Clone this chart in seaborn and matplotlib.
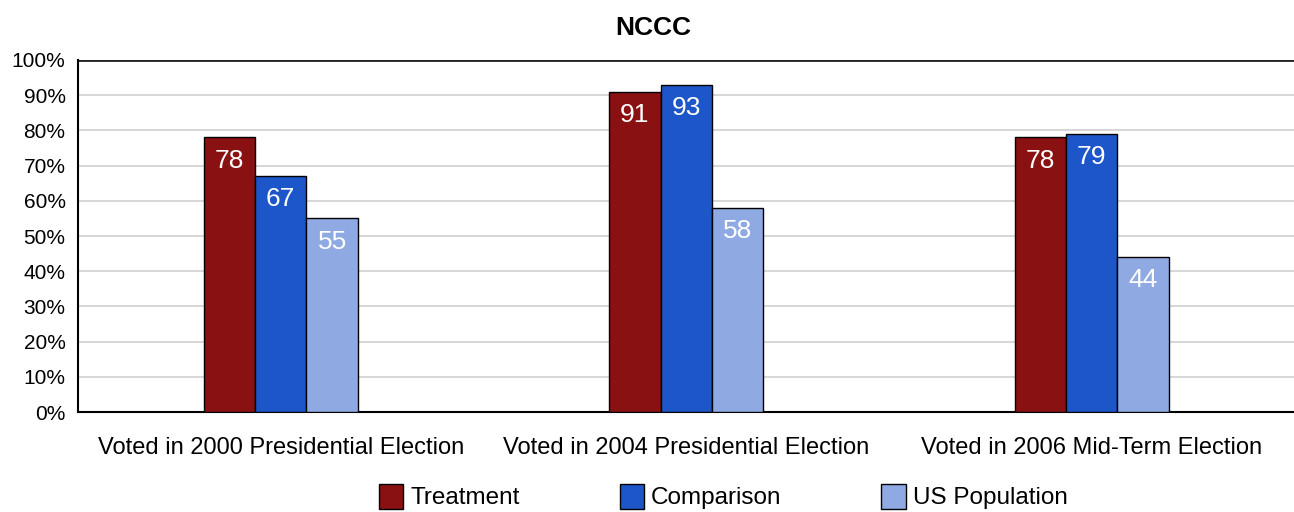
import numpy as np
import pandas as pd
import matplotlib
matplotlib.use("Agg")
import matplotlib.pyplot as plt
import seaborn as sns
from matplotlib.ticker import FixedLocator, PercentFormatter
from matplotlib.patches import Patch

# Chart data
categories = ["Voted in 2000 Presidential Election",
              "Voted in 2004 Presidential Election",
              "Voted in 2006 Mid-Term Election"]
groups = ["Treatment", "Comparison", "US Population"]
treatment = [78, 91, 78]
comparison = [67, 93, 79]
us_population = [55, 58, 44]
colors = ["#8a1111", "#1d56c9", "#8fa9e2"]

df = pd.DataFrame({
    "category": categories * 3,
    "group": [g for g in groups for _ in categories],
    "value": treatment + comparison + us_population,
})

sns.set_style("white")
plt.rcParams["font.family"] = ["Liberation Sans", "DejaVu Sans"]
plt.rcParams["text.color"] = "black"
plt.rcParams["xtick.color"] = "black"
plt.rcParams["ytick.color"] = "black"

fig = plt.figure(figsize=(12.94, 5.12), dpi=100)
ax = fig.add_axes([0.0603, 0.195, 0.94, 0.688])

sns.barplot(data=df, x="category", y="value", hue="group", palette=colors,
            saturation=1, width=0.38, edgecolor="black", linewidth=1,
            ax=ax, legend=False, zorder=3)

# value labels inside the bars
for cont in ax.containers:
    for bar in cont:
        h = bar.get_height()
        ax.annotate(f"{h:.0f}", (bar.get_x() + bar.get_width() / 2, h),
                    xytext=(0, -8), textcoords="offset points",
                    ha="center", va="top", color="white", fontsize=19,
                    zorder=4)

ax.set_ylim(0, 100)
ax.set_xlim(-0.5, 2.5)
ax.yaxis.set_major_locator(FixedLocator(np.arange(0, 101, 10)))
ax.yaxis.set_major_formatter(PercentFormatter(decimals=0))
ax.grid(axis="y", color="#d0d0d0", linewidth=1.2, zorder=0)
ax.axhline(100, color="#222222", linewidth=2, zorder=2)

ax.set_xticks([0, 1, 2])
ax.set_xticklabels(categories, fontsize=17)
ax.set_xticks([0.5, 1.5], minor=True)
ax.tick_params(axis="x", which="major", length=0, pad=18)
ax.tick_params(axis="x", which="minor", length=6, width=1.2, color="black",
               direction="inout")
ax.tick_params(axis="y", length=6, width=1, color="black", direction="out",
               labelsize=15, pad=3)
ax.set_xlabel("")
ax.set_ylabel("")

for s in ["top", "right"]:
    ax.spines[s].set_visible(False)
for s in ["left", "bottom"]:
    ax.spines[s].set_color("black")
    ax.spines[s].set_linewidth(1.5)

fig.text(0.505, 0.945, "NCCC", ha="center", va="center",
         fontsize=19, fontweight="bold")

handles = [Patch(facecolor=c, edgecolor="black", label=g)
           for c, g in zip(colors, groups)]
fig.legend(handles=handles, loc="center", bbox_to_anchor=(0.559, 0.03),
           ncol=3, frameon=False, fontsize=17.5, handlelength=1.0,
           handleheight=1.2, handletextpad=0.3, columnspacing=4.1)

fig.savefig("out.png", dpi=100, facecolor="white")
